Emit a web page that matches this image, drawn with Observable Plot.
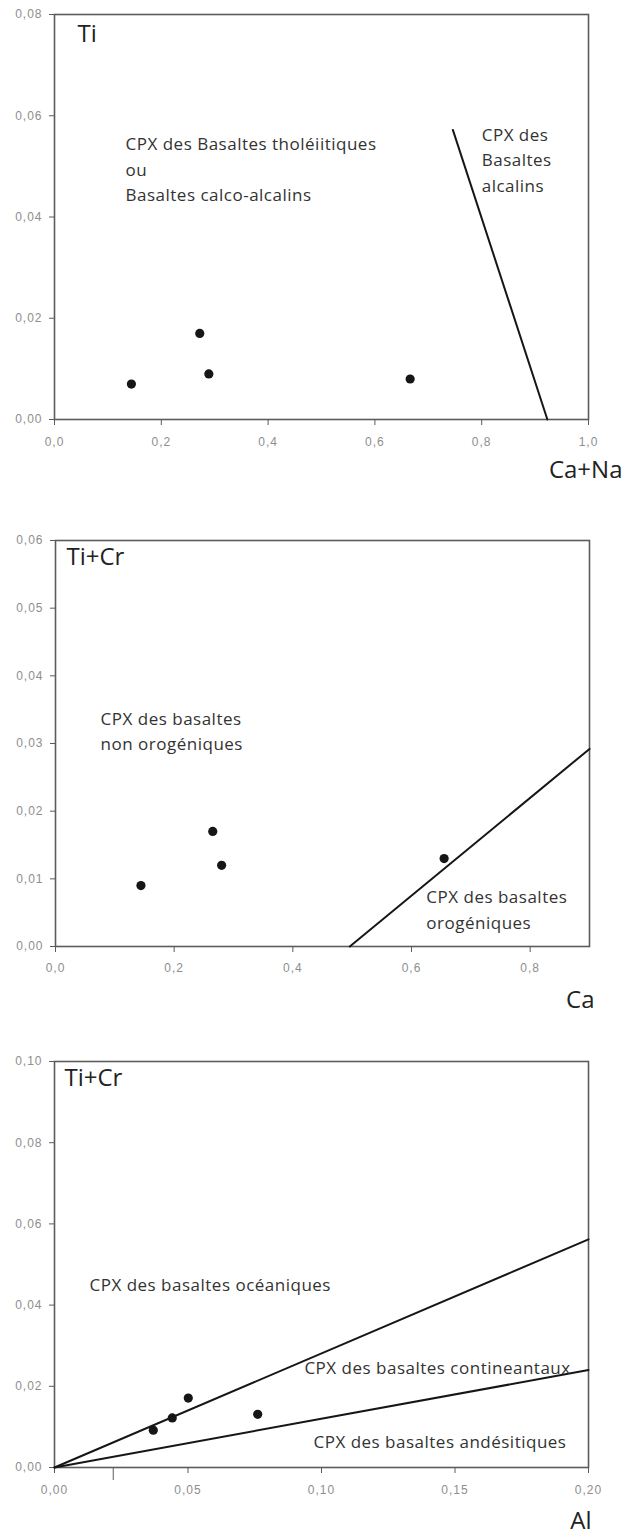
<!DOCTYPE html>
<html>
<head>
<meta charset="utf-8">
<script src="https://cdn.jsdelivr.net/npm/d3@7"></script>
<script src="https://cdn.jsdelivr.net/npm/@observablehq/plot@0.6"></script>
<style>
  body { margin: 0; background: #fff; }
  #charts svg { display: block; }
  [aria-label="x-axis tick label"] text,
  [aria-label="y-axis tick label"] text { letter-spacing: 1px; }
  .field-label text { letter-spacing: 0.5px; }
</style>
</head>
<body>
<div id="charts"></div>
<script>
// ---- Diagram 1: Ti vs Ca+Na ----
const caNa = [0.144, 0.272, 0.289, 0.666];
const ti = [0.007, 0.017, 0.009, 0.008];
const alkalineLimitX = [0.746, 0.923];
const alkalineLimitY = [0.0572, 0.0];
const xTicks1 = [0, 0.2, 0.4, 0.6, 0.8, 1.0];
const yTicks1 = [0, 0.02, 0.04, 0.06, 0.08];
const fields1 = [
  {x: 0.133, y: 0.0498, text: "CPX des Basaltes tholéiitiques\nou\nBasaltes calco-alcalins"},
  {x: 0.800, y: 0.0516, text: "CPX des\nBasaltes\nalcalins"}
];

// ---- Diagram 2: Ti+Cr vs Ca ----
const ca = [0.144, 0.265, 0.280, 0.655];
const tiCr2 = [0.009, 0.017, 0.012, 0.013];
const orogenicLimitX = [0.496, 0.9];
const orogenicLimitY = [0.0, 0.0292];
const xTicks2 = [0, 0.2, 0.4, 0.6, 0.8];
const yTicks2 = [0, 0.01, 0.02, 0.03, 0.04, 0.05, 0.06];
const fields2 = [
  {x: 0.076, y: 0.0321, text: "CPX des basaltes\nnon orogéniques"},
  {x: 0.625, y: 0.0057, text: "CPX des basaltes\norogéniques"}
];

// ---- Diagram 3: Ti+Cr vs Al ----
const al = [0.037, 0.0441, 0.0501, 0.0761];
const tiCr3 = [0.0092, 0.0122, 0.0171, 0.0131];
const oceanicLimitX = [0, 0.2];
const oceanicLimitY = [0, 0.0562];
const andesiticLimitX = [0, 0.2];
const andesiticLimitY = [0, 0.024];
const xTicks3 = [0, 0.05, 0.10, 0.15, 0.20];
const extraTick3 = [0.022];
const yTicks3 = [0, 0.02, 0.04, 0.06, 0.08, 0.10];
const fields3 = [
  {x: 0.0131, y: 0.0456, text: "CPX des basaltes océaniques"},
  {x: 0.0936, y: 0.0251, text: "CPX des basaltes contineantaux"},
  {x: 0.0970, y: 0.0067, text: "CPX des basaltes andésitiques"}
];

const pts = (xs, ys) => xs.map((x, i) => ({x, y: ys[i]}));
const comma = digits => d => d.toFixed(digits).replace(".", ",");

const TEXT_FONT = "'Open Sans', 'Noto Sans', sans-serif";
const INK = "#161616";
const FRAME = "#5c5c5c";
const TICK_TEXT = "#8e8e8e";

function diagram(o) {
  return Plot.plot({
    width: 627,
    height: o.height,
    marginLeft: o.ml, marginRight: o.mr, marginTop: o.mt, marginBottom: o.mb,
    x: {domain: o.xDomain},
    y: {domain: o.yDomain},
    style: {fontFamily: "'Liberation Sans', Arial, sans-serif", fontSize: "12px", background: "#fff"},
    marks: [
      Plot.axisX({ticks: o.xTicks, tickFormat: comma(o.xDigits), tickSize: 6, tickPadding: o.xPad,
        stroke: FRAME, fill: TICK_TEXT, label: null}),
      Plot.axisY({ticks: o.yTicks, tickFormat: comma(2), tickSize: 5, tickPadding: 7,
        stroke: FRAME, fill: TICK_TEXT, label: null}),
      ...(o.extra || []),
      Plot.frame({stroke: FRAME, strokeWidth: 1.6}),
      ...o.lines.map(l => Plot.line(l, {x: "x", y: "y", stroke: INK, strokeWidth: 2})),
      Plot.dot(o.points, {x: "x", y: "y", r: 4.6, fill: INK, stroke: "none"}),
      Plot.text(o.fields, {x: "x", y: "y", text: "text", textAnchor: "start", lineAnchor: "middle",
        lineHeight: 1.5, fontSize: 17, fontFamily: TEXT_FONT, fill: "#333", className: "field-label"}),
      Plot.text([o.yTitle], {frameAnchor: "top-left", dx: o.yTitleDx, dy: o.yTitleDy, textAnchor: "start",
        lineAnchor: "middle", fontSize: 24, fontFamily: TEXT_FONT, fill: "#222"}),
      Plot.text([o.xTitle], {frameAnchor: "bottom-right", dx: o.xTitleDx, dy: o.xTitleDy, textAnchor: "end",
        lineAnchor: "middle", fontSize: 24, fontFamily: TEXT_FONT, fill: "#222"})
    ]
  });
}

const root = document.getElementById("charts");

root.append(diagram({
  height: 520, ml: 54, mr: 39, mt: 14, mb: 101,
  xDomain: [0, 1], yDomain: [0, 0.08],
  xTicks: xTicks1, yTicks: yTicks1, xDigits: 1, xPad: 12,
  lines: [pts(alkalineLimitX, alkalineLimitY)],
  points: pts(caNa, ti),
  fields: fields1,
  yTitle: "Ti", yTitleDx: 23, yTitleDy: 20,
  xTitle: "Ca+Na", xTitleDx: 34, xTitleDy: 51
}));

root.append(diagram({
  height: 500, ml: 55, mr: 38, mt: 20, mb: 74,
  xDomain: [0, 0.9], yDomain: [0, 0.06],
  xTicks: xTicks2, yTicks: yTicks2, xDigits: 1, xPad: 11,
  lines: [pts(orogenicLimitX, orogenicLimitY)],
  points: pts(ca, tiCr2),
  fields: fields2,
  yTitle: "Ti+Cr", yTitleDx: 11, yTitleDy: 17,
  xTitle: "Ca", xTitleDx: 5, xTitleDy: 54
}));

root.append(diagram({
  height: 519, ml: 54, mr: 39, mt: 41, mb: 72,
  xDomain: [0, 0.2], yDomain: [0, 0.10],
  xTicks: xTicks3, yTicks: yTicks3, xDigits: 2, xPad: 12,
  extra: [Plot.ruleX(extraTick3, {x: d => d, y1: 0, y2: 0, insetBottom: -13, stroke: FRAME})],
  lines: [pts(oceanicLimitX, oceanicLimitY), pts(andesiticLimitX, andesiticLimitY)],
  points: pts(al, tiCr3),
  fields: fields3,
  yTitle: "Ti+Cr", yTitleDx: 10, yTitleDy: 17,
  xTitle: "Al", xTitleDx: 3, xTitleDy: 54
}));
</script>
</body>
</html>
